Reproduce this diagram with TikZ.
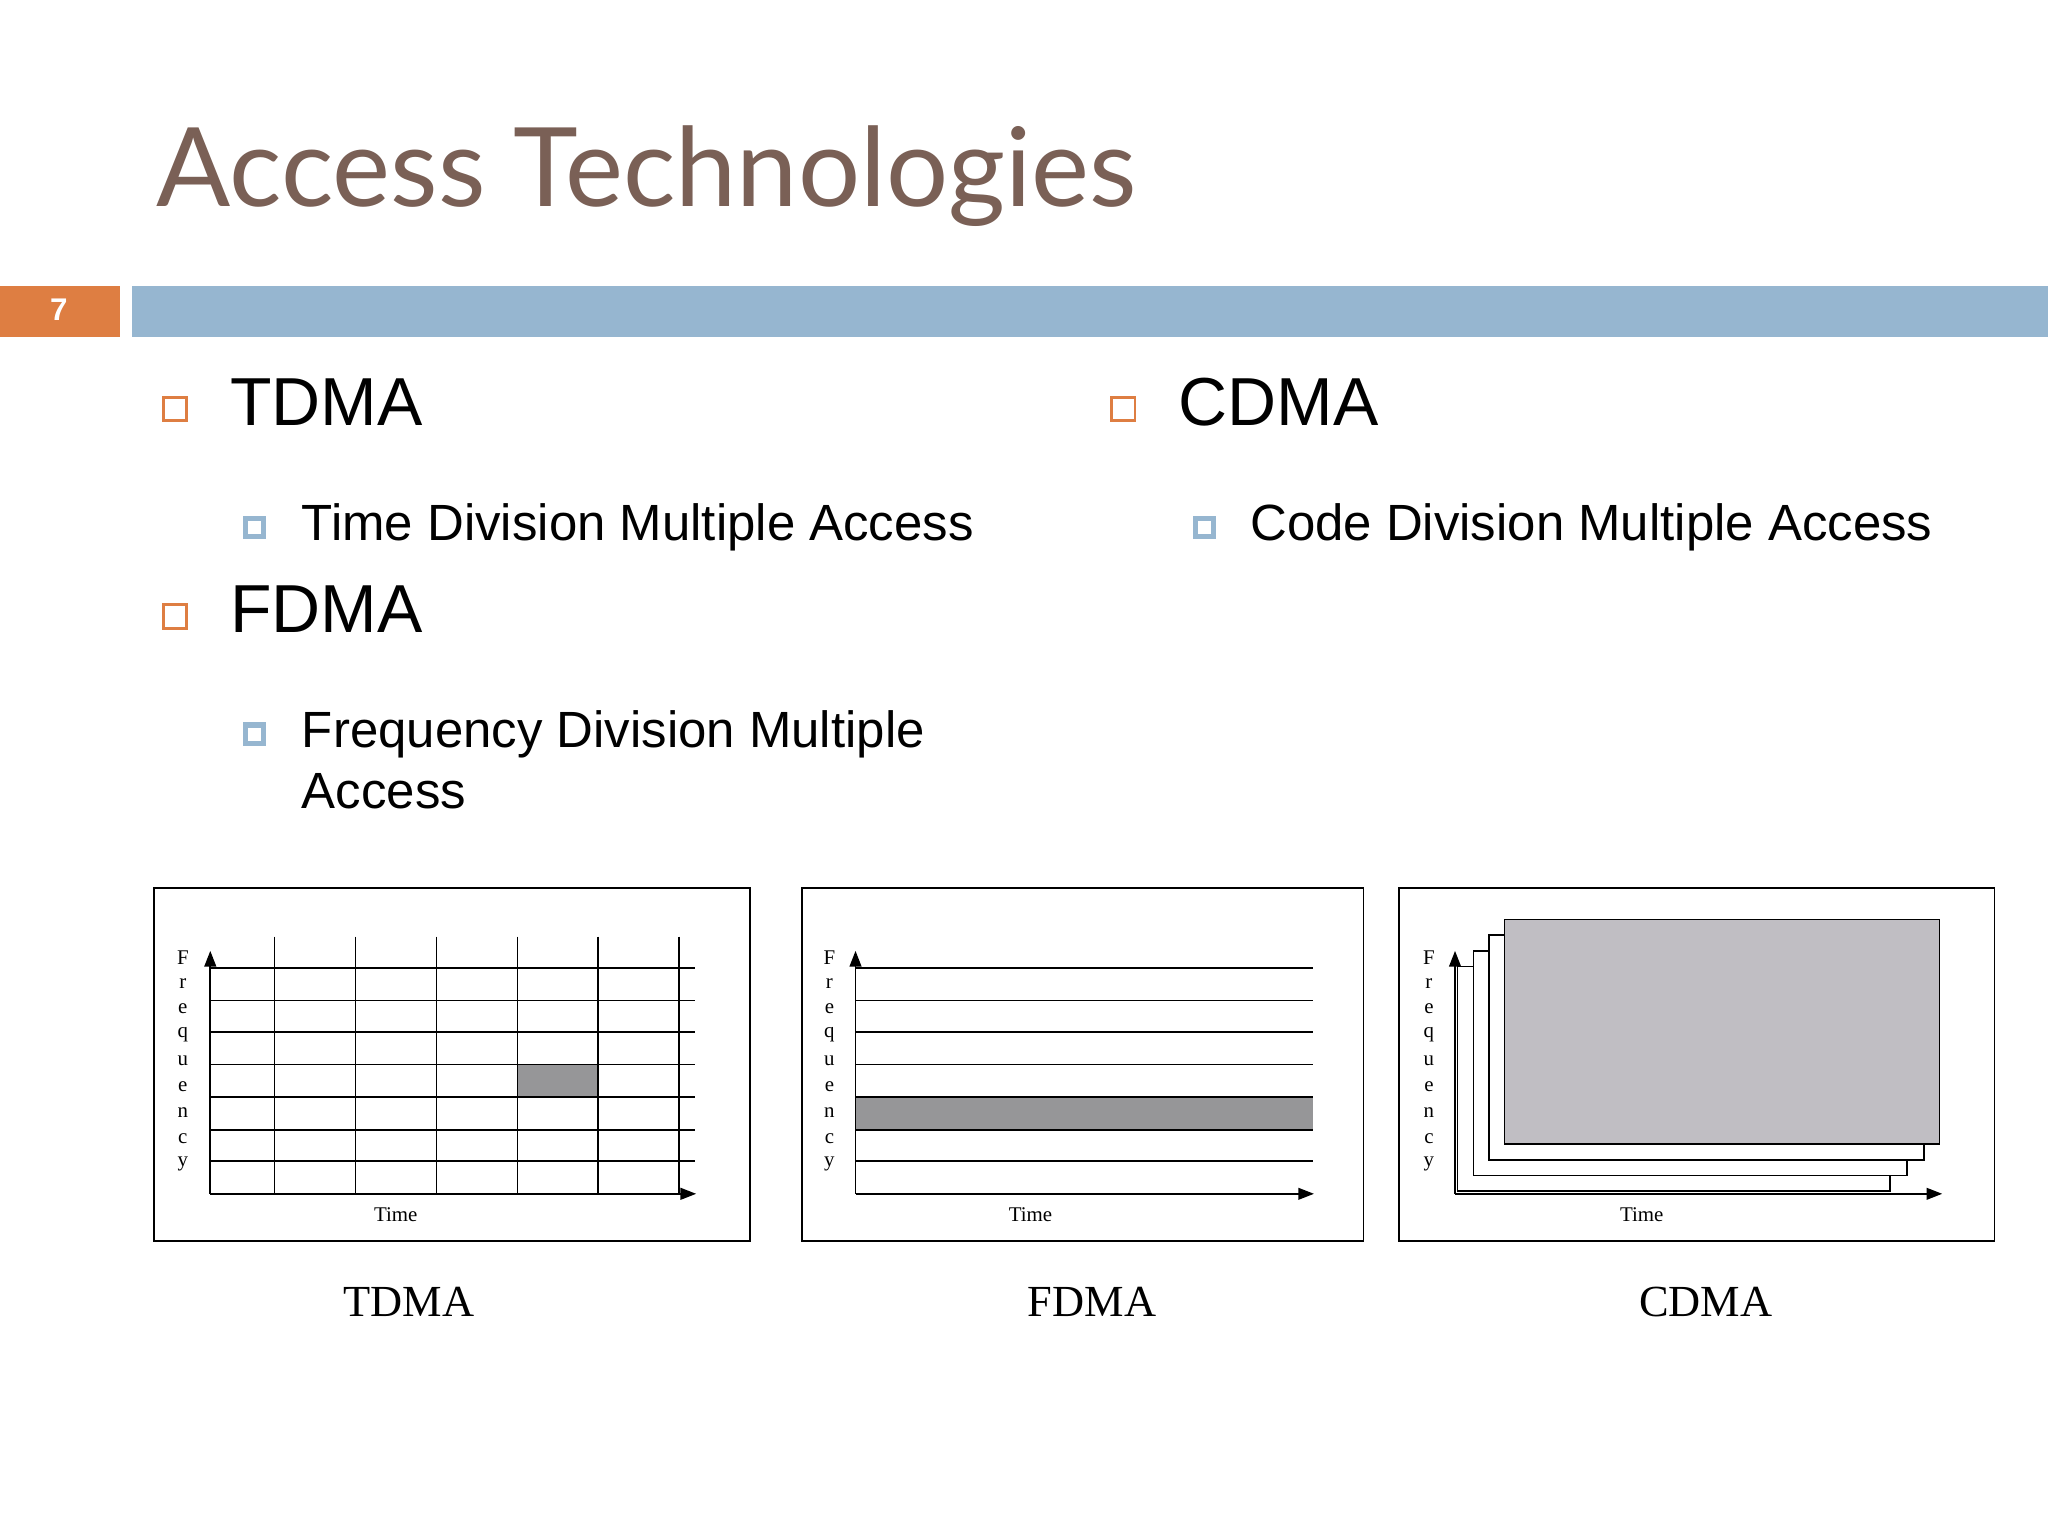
\documentclass[tikz,border=0pt]{standalone}
\usepackage{fontspec}
\setmainfont{Liberation Sans}
\newfontfamily\titlefont{Lato}
\newfontfamily\serifx{Liberation Serif}
\usetikzlibrary{arrows.meta}
\definecolor{brownt}{RGB}{122,96,86}
\definecolor{orangeb}{RGB}{222,126,66}
\definecolor{blueb}{RGB}{150,182,208}
\definecolor{cellg}{RGB}{150,150,152}
\definecolor{cdmag}{RGB}{192,190,195}
\tikzset{x=1pt,y=-1pt,
 obul/.style={draw=orangeb,line width=2.2pt,minimum size=18pt,inner sep=0pt},
 bbul/.style={draw=blueb,line width=4pt,minimum size=14pt,inner sep=0pt},
 big/.style={anchor=base west,font=\fontsize{52}{56}\selectfont,inner sep=0pt},
 sub/.style={anchor=base west,font=\fontsize{39}{47}\selectfont,inner sep=0pt,align=left},
 frame/.style={draw,line width=1.2pt},
 grid/.style={line width=1.1pt},
 ax/.style={line width=1.3pt,-{Triangle[length=12pt,width=9pt]}},
 lab/.style={font=\serifx\fontsize{16}{16}\selectfont,inner sep=0pt},
 captext/.style={font=\serifx\fontsize{34}{34}\selectfont,inner sep=0pt}}
\newcommand{\freqlab}[1]{%
 \foreach \c [count=\i from 0] in {F,r,e,q,u,e,n,c,y}{\node[lab] at (#1,733+\i*19.8) {\c};}}
\begin{document}
\begin{tikzpicture}
\fill[white] (0,0) rectangle (1568,1176);
\useasboundingbox (0,0) rectangle (1568,1176);
\node[anchor=base west,text=brownt,font=\titlefont\fontsize{84}{86}\selectfont,inner sep=0pt] (title) at (120,158) {Access Technologies};
\fill[orangeb] (0,219) rectangle (92,258);
\node[text=white,font=\fontsize{24}{24}\selectfont\bfseries] (num) at (45,237) {7};
\fill[blueb] (101,219) rectangle (1568,258);
% bullets
\node[obul] (b1) at (134,313) {};
\node[big] (t1) at (176,326) {TDMA};
\node[bbul] (s1) at (195,404) {};
\node[sub] (st1) at (231,414) {Time Division Multiple Access};
\node[obul] (b2) at (134,472) {};
\node[big] (t2) at (176,484) {FDMA};
\node[bbul] (s2) at (195,562) {};
\node[sub] (st2) at (231,619) {Frequency Division Multiple\\Access};
\node[obul] (b3) at (860,313) {};
\node[big] (t3) at (902,326) {CDMA};
\node[bbul] (s3) at (922,404) {};
\node[sub] (st3) at (957,414) {Code Division Multiple Access};
% TDMA diagram
\draw[frame] (118,680) rectangle (574,950);
\fill[cellg] (396,815) rectangle (458,840);
\foreach \y in {741,766,790,815,840,865,889} \draw[grid] (161,\y) -- (532,\y);
\foreach \x in {210,272,334,396,458,520} \draw[grid] (\x,717) -- (\x,914);
\draw[ax] (161,914) -- (161,728);
\draw[ax] (161,914) -- (533,914);
\freqlab{140}
\node[lab] at (303,930) {Time};
\node[captext] at (313,997) {TDMA};
% FDMA diagram
\draw[frame] (614,680) rectangle (1044,950);
\fill[cellg] (655,840) rectangle (1005,865);
\foreach \y in {741,766,790,815,840,865,889} \draw[grid] (655,\y) -- (1005,\y);
\draw[ax] (655,914) -- (655,728);
\draw[ax] (655,914) -- (1006,914);
\freqlab{635}
\node[lab] at (789,930) {Time};
\node[captext] at (836,997) {FDMA};
% CDMA diagram
\draw[frame] (1071,680) rectangle (1527,950);
\draw[grid,fill=white] (1116,740) rectangle (1447,912);
\draw[grid,fill=white] (1128,728) rectangle (1460,900);
\draw[grid,fill=white] (1140,716) rectangle (1473,888);
\draw[grid,fill=cdmag] (1152,704) rectangle (1485,876);
\draw[ax] (1114,914) -- (1114,728);
\draw[ax] (1114,914) -- (1487,914);
\freqlab{1094}
\node[lab] at (1257,930) {Time};
\node[captext] at (1306,997) {CDMA};
\end{tikzpicture}
\end{document}
